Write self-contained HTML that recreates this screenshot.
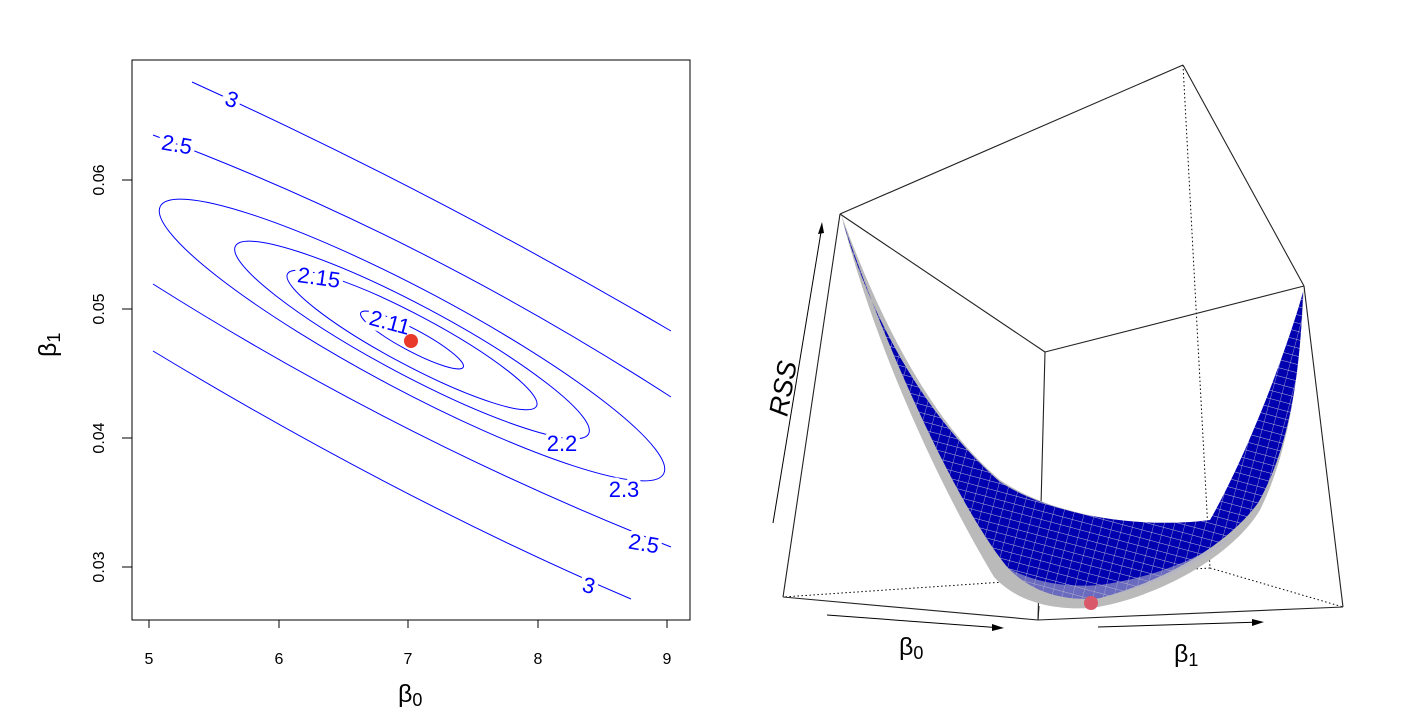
<!DOCTYPE html>
<html><head><meta charset="utf-8"><style>
html,body{margin:0;padding:0;background:#fff;}
svg{display:block;font-family:"Liberation Sans",sans-serif;}
</style></head><body>
<svg width="1402" height="718" viewBox="0 0 1402 718" xmlns="http://www.w3.org/2000/svg">
<defs>
<clipPath id="box"><rect x="132" y="60" width="558" height="560"/></clipPath>
<pattern id="mesh" width="10" height="8" patternUnits="userSpaceOnUse" patternTransform="rotate(15)">
<rect width="10" height="8" fill="#0000b0"/>
<line x1="0" y1="0" x2="10" y2="0" stroke="#b8b8d8" stroke-width="1"/>
<line x1="0" y1="0" x2="0" y2="8" stroke="#b8b8d8" stroke-width="0.8"/>
</pattern>
</defs>
<!-- LEFT PANEL -->
<rect x="132" y="60" width="558" height="560" fill="none" stroke="#000" stroke-width="1"/>
<g clip-path="url(#box)" fill="none" stroke="#0000ff" stroke-width="1">
<g transform="rotate(28 412 340)">
<ellipse cx="412" cy="340" rx="58" ry="11"/>
<ellipse cx="412" cy="340" rx="141" ry="25"/>
<ellipse cx="412" cy="340" rx="200" ry="35"/>
<ellipse cx="412" cy="340" rx="285" ry="50"/>
</g>
<path d="M192,82 Q430,190 671,331"/>
<path d="M153,135 Q420,235 671,397"/>
<path d="M153,284 Q400,440 671,547"/>
<path d="M153,351 Q400,500 631,599"/>
</g>
<g fill="#0000ff" font-size="22" stroke="#fff" stroke-width="8" paint-order="stroke" text-anchor="middle">
<text x="232" y="107" transform="rotate(20 232 99)">3</text>
<text x="177" y="152" transform="rotate(10 177 144)">2.5</text>
<text x="319" y="285" transform="rotate(8 319 277)">2.15</text>
<text x="390" y="330" transform="rotate(15 390 322)">2.11</text>
<text x="562" y="451">2.2</text>
<text x="624" y="497">2.3</text>
<text x="644" y="551" transform="rotate(10 644 543)">2.5</text>
<text x="589" y="593" transform="rotate(15 589 585)">3</text>
</g>
<circle cx="411" cy="341" r="7" fill="#e8392a"/>
<g stroke="#000" stroke-width="1">
<line x1="149" y1="620" x2="667" y2="620"/>
<line x1="149" y1="620" x2="149" y2="628"/><line x1="279" y1="620" x2="279" y2="628"/>
<line x1="408" y1="620" x2="408" y2="628"/><line x1="538" y1="620" x2="538" y2="628"/>
<line x1="667" y1="620" x2="667" y2="628"/>
<line x1="132" y1="180" x2="122" y2="180"/><line x1="132" y1="309" x2="122" y2="309"/>
<line x1="132" y1="438" x2="122" y2="438"/><line x1="132" y1="567" x2="122" y2="567"/>
</g>
<g font-size="16" text-anchor="middle" fill="#000">
<text x="149" y="664">5</text><text x="279" y="664">6</text><text x="408" y="664">7</text>
<text x="538" y="664">8</text><text x="667" y="664">9</text>
<text transform="translate(104 180) rotate(-90)">0.06</text>
<text transform="translate(104 309) rotate(-90)">0.05</text>
<text transform="translate(104 438) rotate(-90)">0.04</text>
<text transform="translate(104 567) rotate(-90)">0.03</text>
</g>
<text x="398" y="702" font-size="25">β<tspan font-size="18" dy="4">0</tspan></text>
<text transform="translate(56 357) rotate(-90)" font-size="25">β<tspan font-size="18" dy="4">1</tspan></text>

<!-- RIGHT PANEL -->
<g stroke="#000" stroke-width="1" fill="none" stroke-dasharray="1.5,2.5">
<line x1="1183" y1="65" x2="1210" y2="568"/>
<line x1="1210" y1="568" x2="783" y2="597"/>
<line x1="1210" y1="568" x2="1343" y2="607"/>
</g>
<line x1="1045" y1="352" x2="1038" y2="620" stroke="#222" stroke-width="1.1"/>
<path d="M841,214 C870,330 930,470 994,577 C1020,605 1060,610 1091,608 C1150,600 1230,560 1260,510 C1290,450 1300,370 1304,286 C1300,330 1250,450 1210,520 C1150,528 1060,520 1000,480 C930,420 880,320 841,214 Z" fill="#bababa"/>
<path d="M843,222 C875,330 930,420 1000,482 C1060,520 1150,528 1210,520 C1250,450 1290,340 1303,292 C1300,380 1288,450 1258,503 C1225,548 1160,582 1100,598 C1060,602 1030,590 1008,568 C960,510 890,360 843,222 Z" fill="url(#mesh)"/>
<path d="M1008,568 C1030,590 1060,602 1100,598 C1150,588 1200,565 1240,530 C1200,560 1150,578 1100,585 C1060,588 1030,580 1008,568 Z" fill="#b0b0c8" opacity="0.6"/>
<line x1="1039" y1="606" x2="1038" y2="620" stroke="#222" stroke-width="1.1"/>
<g stroke="#222" stroke-width="1.1" fill="none">
<line x1="840" y1="214" x2="1183" y2="65"/>
<line x1="1183" y1="65" x2="1304" y2="286"/>
<line x1="840" y1="214" x2="1045" y2="352"/>
<line x1="1045" y1="352" x2="1304" y2="286"/>
<line x1="840" y1="214" x2="783" y2="597"/>
<line x1="1304" y1="286" x2="1343" y2="607"/>
<line x1="783" y1="597" x2="1038" y2="620"/>
<line x1="1038" y1="620" x2="1343" y2="607"/>
</g>
<circle cx="1091" cy="603" r="7" fill="#d9596a"/>
<g stroke="#000" stroke-width="1" fill="none">
<line x1="773" y1="523" x2="822" y2="226"/>
<line x1="827" y1="615" x2="1002" y2="628"/>
<line x1="1098" y1="627" x2="1262" y2="622"/>
</g>
<g fill="#000">
<polygon points="822,222 818,234 824,233"/>
<polygon points="1004,628 992,624 992,631"/>
<polygon points="1264,622 1252,619 1252,626"/>
</g>
<text transform="translate(792 390) rotate(-80)" font-size="27" font-style="italic" text-anchor="middle">RSS</text>
<text x="899" y="655" font-size="25">β<tspan font-size="18" dy="4">0</tspan></text>
<text x="1174" y="662" font-size="25">β<tspan font-size="18" dy="4">1</tspan></text>
</svg>
</body></html>
